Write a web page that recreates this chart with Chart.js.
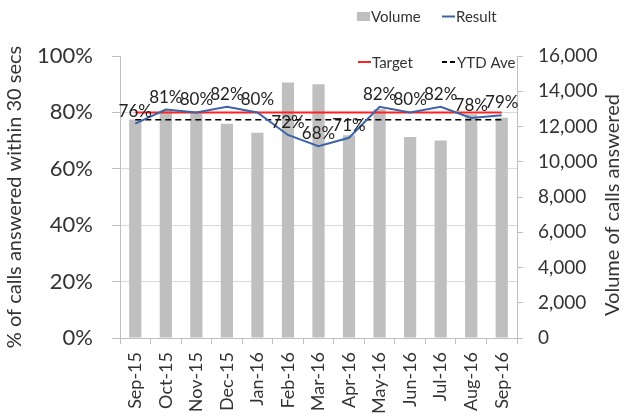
<!DOCTYPE html>
<html>
<head>
<meta charset="utf-8">
<title>Calls answered within 30 secs</title>
<script src="https://cdn.jsdelivr.net/npm/chart.js@4/dist/chart.umd.min.js"></script>
<style>
    html, body { margin: 0; padding: 0; background: #fff; }
    #wrap { position: relative; width: 633px; height: 419px; }
</style>
</head>
<body>
<div id="wrap"><canvas id="calls-chart" width="633" height="419"></canvas></div>
<script>
'use strict';

var months = ['Sep-15', 'Oct-15', 'Nov-15', 'Dec-15', 'Jan-16', 'Feb-16', 'Mar-16',
    'Apr-16', 'May-16', 'Jun-16', 'Jul-16', 'Aug-16', 'Sep-16'];
var volume = [12400, 12900, 12800, 12150, 11650, 14500, 14400, 11500, 13000, 11400, 11200, 12700, 12500];
var result = [76, 81, 80, 82, 80, 72, 68, 71, 82, 80, 82, 78, 79];
var target = [80, 80, 80, 80, 80, 80, 80, 80, 80, 80, 80, 80, 80];
var ytdAve = [77.4, 77.4, 77.4, 77.4, 77.4, 77.4, 77.4, 77.4, 77.4, 77.4, 77.4, 77.4, 77.4];
var pctTicks = [0, 20, 40, 60, 80, 100];
var volTicks = [0, 2000, 4000, 6000, 8000, 10000, 12000, 14000, 16000];

var FONT = 'Lato, "Open Sans", sans-serif';
var TEXT = '#333333';
var BAR = '#bfbfbf';
var BLUE = '#3d64a6';
var RED = '#ff2020';

// percentage labels above the Result points
var pointLabels = {
    id: 'pointLabels',
    afterDatasetsDraw(chart) {
        var ctx = chart.ctx;
        var meta = chart.getDatasetMeta(0);
        ctx.save();
        ctx.font = '17px ' + FONT;
        ctx.fillStyle = '#222222';
        ctx.textAlign = 'center';
        ctx.textBaseline = 'bottom';
        meta.data.forEach((pt, i) => {
            ctx.fillText(result[i] + '%', pt.x, pt.y - 4);
        });
        ctx.restore();
    }
};

// axis titles (both read bottom-to-top) and the two legends
var extras = {
    id: 'extras',
    afterDraw(chart) {
        var ctx = chart.ctx;
        var area = chart.chartArea;
        var midY = (area.top + area.bottom) / 2;
        ctx.save();
        ctx.fillStyle = TEXT;
        ctx.font = '20px ' + FONT;
        ctx.textAlign = 'center';
        ctx.textBaseline = 'middle';

        ctx.save();
        ctx.translate(chart.scales.y.left + 15, midY);
        ctx.rotate(-Math.PI / 2);
        ctx.fillText('% of calls answered within 30 secs', 0, 0);
        ctx.restore();

        ctx.save();
        ctx.translate(chart.scales.y1.right - 20, midY + 8);
        ctx.rotate(-Math.PI / 2);
        ctx.fillText('Volume of calls answered', 0, 0);
        ctx.restore();

        ctx.font = '15px ' + FONT;
        ctx.textAlign = 'left';

        // top legend
        ctx.fillStyle = BAR;
        ctx.fillRect(357, 12, 13, 9);
        ctx.fillStyle = TEXT;
        ctx.fillText('Volume', 371, 17);
        ctx.strokeStyle = BLUE;
        ctx.lineWidth = 2;
        ctx.beginPath();
        ctx.moveTo(442, 16.5);
        ctx.lineTo(455, 16.5);
        ctx.stroke();
        ctx.fillText('Result', 456, 17);

        // inner legend
        ctx.strokeStyle = RED;
        ctx.beginPath();
        ctx.moveTo(358, 62);
        ctx.lineTo(371, 62);
        ctx.stroke();
        ctx.fillText('Target', 372, 63);
        ctx.strokeStyle = '#000';
        ctx.setLineDash([5, 3]);
        ctx.beginPath();
        ctx.moveTo(442, 62);
        ctx.lineTo(455, 62);
        ctx.stroke();
        ctx.setLineDash([]);
        ctx.fillText('YTD Ave', 457, 63);
        ctx.restore();
    }
};

var canvas = document.getElementById('calls-chart');

var chart = new Chart(canvas, {
    data: {
        labels: months,
        datasets: [{
            type: 'line',
            label: 'Result',
            data: result,
            yAxisID: 'y',
            borderColor: BLUE,
            borderWidth: 2,
            pointRadius: 0,
            tension: 0,
            order: 0
        }, {
            type: 'line',
            label: 'Target',
            data: target,
            yAxisID: 'y',
            borderColor: RED,
            borderWidth: 2,
            pointRadius: 0,
            order: 1
        }, {
            type: 'line',
            label: 'YTD Ave',
            data: ytdAve,
            yAxisID: 'y',
            borderColor: '#000',
            borderWidth: 1.5,
            borderDash: [6, 4],
            pointRadius: 0,
            order: 2
        }, {
            type: 'bar',
            label: 'Volume',
            data: volume,
            yAxisID: 'y1',
            backgroundColor: BAR,
            categoryPercentage: 1,
            barPercentage: 0.4,
            order: 3
        }]
    },
    options: {
        responsive: false,
        animation: false,
        layout: { padding: { top: 56, left: 0, right: 0, bottom: 0 } },
        plugins: {
            legend: { display: false },
            tooltip: { enabled: false }
        },
        scales: {
            x: {
                type: 'category',
                offset: true,
                grid: {
                    offset: true,
                    drawOnChartArea: false,
                    drawTicks: true,
                    tickLength: 6,
                    color: '#bfbfbf'
                },
                border: { color: '#bfbfbf' },
                ticks: {
                    minRotation: 90,
                    maxRotation: 90,
                    padding: 8,
                    color: TEXT,
                    font: { family: FONT, size: 18 }
                },
                afterFit: scale => { scale.height = 81; }
            },
            y: {
                position: 'left',
                min: 0,
                max: 100,
                afterBuildTicks: scale => {
                    scale.ticks = pctTicks.map(v => ({ value: v }));
                },
                grid: {
                    // no gridline along the top edge, only the tick mark
                    color: c => (c.tick && c.tick.value === 100) ? 'rgba(0,0,0,0)' : '#d9d9d9',
                    tickColor: '#bfbfbf',
                    tickLength: 8
                },
                border: { color: '#bfbfbf' },
                ticks: {
                    padding: 19,
                    color: TEXT,
                    font: { family: FONT, size: 22 },
                    callback: v => v + '%'
                },
                afterFit: scale => { scale.width = 120; }
            },
            y1: {
                position: 'right',
                min: 0,
                max: 16000,
                afterBuildTicks: scale => {
                    scale.ticks = volTicks.map(v => ({ value: v }));
                },
                grid: {
                    drawOnChartArea: false,
                    color: '#bfbfbf',
                    tickLength: 6
                },
                border: { color: '#bfbfbf' },
                ticks: {
                    padding: 15,
                    color: TEXT,
                    font: { family: FONT, size: 19 },
                    callback: v => v.toLocaleString('en-US')
                },
                afterFit: scale => { scale.width = 116; }
            }
        }
    },
    plugins: [pointLabels, extras]
});
</script>
</body>
</html>
